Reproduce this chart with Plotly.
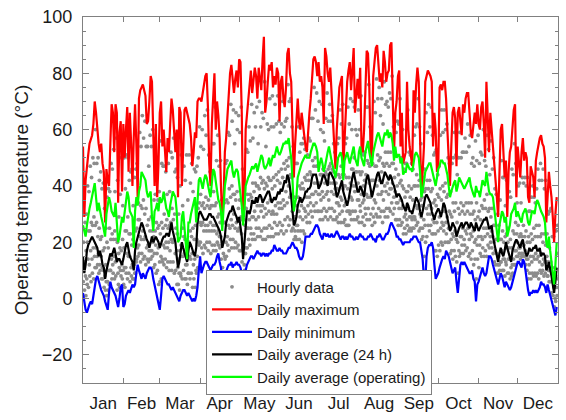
import plotly.graph_objects as go

# Calendar
months = ["Jan", "Feb", "Mar", "Apr", "May", "Jun", "Jul", "Aug", "Sep", "Oct", "Nov", "Dec"]
month_days = [31, 28, 31, 30, 31, 30, 31, 31, 30, 31, 30, 31]

# Daily maximum operating temperature (°C), one value per day
daily_max = [
    54, 29, 42, 48, 51, 55, 57, 58, 62, 70, 66, 60, 55, 52, 55, 48, 45, 27, 46, 42, 40, 55, 69, 66, 52, 69, 66, 34, 59, 63, 38,
    62, 50, 60, 68, 45, 66, 55, 40, 57, 69, 55, 36, 71, 74, 75, 76, 74, 72, 62, 63, 70, 79, 77, 52, 40, 62, 36, 48,
    66, 70, 54, 60, 50, 45, 57, 52, 62, 71, 67, 58, 52, 60, 36, 68, 66, 40, 55, 67, 68, 66, 64, 62, 57, 47, 52, 59, 57, 70, 71,
    71, 70, 73, 77, 79, 80, 68, 48, 40, 62, 69, 80, 60, 70, 65, 57, 40, 28, 35, 52, 57, 66, 75, 80, 83, 79, 73, 78, 81, 75,
    85, 84, 66, 29, 34, 60, 66, 71, 75, 81, 73, 77, 82, 79, 71, 82, 78, 74, 85, 93, 66, 70, 77, 83, 81, 84, 75, 79, 76, 82, 80,
    63, 77, 79, 71, 68, 75, 87, 89, 80, 77, 60, 43, 55, 66, 71, 63, 60, 66, 62, 57, 54, 52, 60, 66, 71, 79, 85, 86, 84, 79,
    84, 77, 79, 75, 62, 89, 86, 80, 77, 82, 73, 68, 55, 46, 60, 68, 75, 77, 79, 46, 58, 66, 77, 81, 84, 74, 80, 89, 66, 74, 78,
    71, 82, 54, 52, 60, 77, 88, 87, 75, 52, 49, 79, 85, 89, 90, 84, 77, 80, 75, 88, 84, 77, 80, 81, 90, 91, 70, 52, 66, 70, 79,
    81, 54, 66, 48, 50, 52, 77, 60, 54, 50, 47, 74, 66, 76, 82, 77, 60, 37, 45, 54, 77, 79, 81, 80, 79, 77, 54, 66, 60, 45,
    47, 75, 76, 74, 77, 77, 71, 60, 52, 40, 54, 66, 68, 64, 47, 66, 68, 63, 58, 69, 66, 71, 73, 73, 66, 59, 57, 62, 66, 62, 69,
    62, 60, 68, 70, 62, 50, 77, 60, 52, 66, 60, 57, 49, 42, 36, 29, 49, 60, 62, 50, 43, 49, 29, 45, 52, 54, 63, 67, 69, 36,
    54, 47, 43, 52, 57, 49, 52, 50, 36, 34, 47, 45, 43, 36, 49, 52, 55, 57, 58, 55, 54, 50, 27, 36, 45, 40, 36, 29, 20, 30, 36,
]

# Daily minimum
daily_min = [
    2, -1, -4, -5, -3, -2, -1, -2, 1, 4, 7, 8, 6, 4, 3, 2, 1, -1, -3, -4, 2, 6, 4, 3, 2, 1, -1, -3, 0, 4, 5,
    -3, -2, 1, 2, 3, 2, 4, 5, 4, 5, 9, 12, 10, 8, 7, 9, 8, 7, 9, 10, 11, 11, 10, 7, 5, 3, 1, -2,
    -4, 1, 7, 8, 7, 6, 5, 5, 4, 3, 4, 3, 2, 1, 0, -1, 1, 2, 3, 3, 2, 1, 2, 1, 0, -1, 0, -1, 1, 4, 10,
    15, 9, 11, 12, 13, 13, 12, 11, 10, 11, 12, 12, 13, 15, 16, 13, 11, 6, 3, 8, 10, 11, 12, 12, 13, 11, 12, 12, 13, 12,
    12, 11, 9, 2, 5, 10, 12, 13, 14, 15, 15, 14, 15, 16, 17, 16, 16, 15, 16, 16, 15, 16, 15, 16, 16, 17, 17, 19, 18, 17, 17,
    18, 17, 17, 16, 16, 16, 17, 18, 18, 19, 20, 19, 18, 18, 17, 15, 14, 14, 15, 18, 22, 22, 22, 22, 23, 23, 24, 25, 26, 26,
    25, 23, 22, 21, 23, 23, 22, 23, 22, 22, 23, 22, 22, 23, 24, 23, 22, 21, 22, 22, 21, 22, 21, 22, 23, 22, 22, 21, 21, 22, 21,
    22, 23, 22, 22, 21, 21, 21, 22, 22, 23, 22, 21, 21, 20, 22, 22, 23, 22, 21, 21, 22, 23, 23, 24, 26, 27, 26, 25, 24, 22, 22,
    21, 21, 20, 19, 20, 20, 20, 20, 20, 21, 21, 22, 22, 22, 21, 20, 20, 17, 14, 7, 6, 15, 18, 19, 19, 20, 18, 12, 7, 8,
    9, 11, 13, 14, 15, 14, 17, 16, 15, 13, 11, 9, 10, 11, 6, 2, 7, 12, 13, 12, 13, 12, 11, 10, 9, 9, 10, 7, 6, -1, 5,
    6, 8, 10, 11, 9, 8, 9, 12, 15, 15, 14, 12, 10, 8, 6, 5, 7, 9, 8, 6, 4, 6, 5, 4, 3, 4, 6, 7, 9, 11,
    13, 13, 12, 11, 14, 13, 10, 6, 3, 1, 2, 2, 3, 2, 3, 2, 3, 4, 6, 5, 5, 4, 2, 5, 3, 1, 0, -3, -5, -6, -3,
]

# Daily average over 24 h
daily_avg24 = [
    15, 9, 12, 17, 19, 20, 21, 22, 21, 20, 19, 18, 15, 17, 15, 12, 11, 7, 10, 12, 13, 16, 15, 17, 18, 16, 13, 14, 14, 13, 12,
    14, 17, 19, 20, 17, 15, 14, 13, 10, 17, 20, 22, 24, 26, 27, 26, 24, 22, 21, 20, 18, 20, 22, 20, 21, 22, 21, 20,
    18, 20, 21, 22, 22, 23, 23, 22, 24, 27, 24, 22, 20, 15, 11, 13, 17, 20, 18, 16, 14, 13, 17, 20, 19, 17, 16, 15, 18, 27, 30,
    31, 30, 29, 28, 28, 28, 29, 30, 30, 29, 29, 28, 27, 26, 25, 24, 22, 18, 20, 22, 27, 29, 30, 31, 31, 33, 31, 30, 29, 27,
    29, 25, 22, 14, 20, 28, 31, 31, 30, 32, 35, 34, 34, 36, 34, 36, 37, 36, 34, 35, 36, 37, 38, 38, 36, 34, 35, 36, 35, 37, 38,
    37, 39, 38, 40, 42, 41, 44, 43, 40, 36, 31, 26, 27, 29, 33, 35, 36, 34, 35, 36, 38, 38, 39, 39, 40, 43, 44, 44, 44, 42,
    39, 40, 41, 43, 44, 43, 41, 40, 44, 45, 44, 43, 42, 39, 36, 37, 39, 41, 42, 38, 36, 35, 33, 35, 38, 41, 43, 45, 43, 41, 38,
    38, 40, 39, 37, 36, 40, 43, 44, 42, 39, 36, 38, 40, 43, 44, 45, 43, 41, 41, 43, 45, 44, 43, 42, 44, 43, 41, 40, 38, 36, 37,
    37, 36, 35, 33, 32, 31, 34, 33, 31, 31, 30, 32, 35, 36, 35, 34, 31, 29, 31, 34, 36, 37, 36, 35, 34, 31, 29, 28, 30, 31,
    32, 31, 29, 31, 34, 33, 31, 29, 27, 24, 25, 27, 26, 25, 22, 24, 25, 26, 27, 25, 26, 27, 27, 26, 25, 27, 26, 25, 24, 27, 25,
    24, 25, 26, 27, 28, 28, 29, 27, 25, 25, 26, 22, 20, 17, 15, 13, 16, 18, 16, 15, 17, 20, 18, 16, 15, 13, 17, 19, 20, 21,
    20, 19, 18, 20, 21, 18, 16, 15, 16, 18, 17, 17, 18, 18, 19, 17, 17, 18, 15, 16, 16, 15, 10, 11, 13, 11, 8, 5, 2, 6, 11,
]

# Daily average over operating hours
daily_avg_op = [
    26, 24, 22, 26, 30, 32, 34, 36, 38, 41, 36, 31, 34, 31, 29, 27, 24, 22, 30, 33, 36, 34, 31, 30, 29, 34, 26, 20, 22, 26, 29,
    27, 31, 35, 38, 36, 31, 30, 29, 18, 31, 36, 33, 38, 40, 45, 44, 43, 42, 38, 36, 37, 38, 29, 24, 31, 32, 34, 31,
    36, 34, 35, 38, 35, 32, 31, 29, 33, 36, 38, 37, 36, 31, 20, 21, 22, 29, 31, 25, 20, 14, 27, 27, 30, 32, 34, 36, 27, 36, 42,
    43, 41, 39, 42, 44, 43, 40, 38, 36, 42, 46, 45, 41, 37, 35, 34, 31, 24, 33, 40, 43, 46, 47, 48, 49, 45, 43, 45, 46, 45,
    41, 37, 33, 26, 31, 40, 42, 43, 44, 46, 47, 46, 47, 48, 45, 47, 49, 51, 50, 47, 46, 47, 48, 50, 47, 49, 51, 50, 52, 54, 52,
    51, 52, 54, 55, 55, 56, 55, 57, 53, 50, 42, 31, 34, 36, 43, 45, 46, 48, 49, 50, 51, 50, 50, 50, 52, 54, 55, 55, 54, 52,
    45, 48, 50, 48, 45, 47, 50, 52, 54, 51, 49, 47, 45, 43, 46, 50, 51, 52, 50, 42, 49, 51, 52, 50, 48, 50, 52, 54, 50, 48, 47,
    52, 54, 50, 48, 47, 52, 54, 56, 52, 49, 47, 52, 54, 57, 58, 59, 57, 55, 54, 57, 59, 58, 60, 57, 59, 58, 55, 49, 54, 50, 51,
    51, 48, 50, 44, 45, 45, 48, 47, 46, 46, 45, 48, 51, 52, 51, 50, 45, 36, 38, 41, 45, 46, 47, 48, 48, 46, 45, 42, 40, 43,
    46, 47, 49, 49, 48, 48, 46, 44, 40, 36, 38, 40, 41, 42, 38, 40, 43, 42, 41, 40, 39, 40, 41, 42, 43, 40, 38, 37, 36, 40, 38,
    38, 36, 39, 42, 41, 40, 45, 41, 38, 37, 37, 36, 32, 29, 26, 20, 26, 29, 31, 30, 27, 29, 22, 24, 26, 30, 31, 32, 34, 29,
    31, 29, 28, 27, 30, 31, 32, 30, 27, 26, 29, 31, 31, 30, 33, 35, 34, 32, 31, 30, 29, 27, 20, 18, 22, 17, 13, 10, 5, 12, 20,
]

# Hourly readings: hour of day of each reading, then one row of readings per day
hourly_hours = [5, 21, 10, 14]
hourly_temps = [
    # Jan
    [6, 11, 20, 37], [3, 8, 13, 27], [1, 7, 17, 30], [5, 14, 20, 40], [4, 12, 24, 38], [8, 17, 24, 47], [6, 14, 27, 43],
    [9, 18, 26, 50], [7, 15, 29, 48], [11, 18, 26, 60], [11, 15, 27, 48], [12, 16, 22, 50], [9, 12, 25, 42], [10, 15, 21, 45],
    [7, 11, 22, 39], [7, 10, 17, 41], [4, 8, 18, 32], [3, 6, 12, 25], [1, 6, 20, 36], [3, 10, 18, 39], [5, 10, 25, 38],
    [10, 14, 21, 48], [7, 12, 23, 46], [9, 15, 21, 53], [7, 13, 24, 38], [8, 14, 21, 57], [3, 9, 20, 42], [5, 11, 16, 29],
    [4, 10, 18, 37], [8, 12, 17, 50], [7, 10, 21, 33],
    # Feb
    [5, 11, 18, 50], [4, 11, 24, 39], [9, 16, 24, 51], [7, 15, 29, 50], [9, 15, 23, 42], [6, 11, 23, 45], [8, 12, 19, 46],
    [7, 11, 21, 33], [7, 9, 12, 43], [9, 13, 24, 46], [14, 18, 25, 48], [15, 19, 28, 34], [16, 22, 28, 59], [13, 21, 33, 54],
    [16, 24, 32, 65], [14, 21, 35, 57], [15, 22, 30, 63], [12, 18, 32, 54], [14, 19, 26, 54], [13, 17, 28, 47], [14, 17, 24, 58],
    [14, 17, 29, 54], [15, 20, 24, 60], [11, 16, 22, 35], [12, 19, 24, 37], [9, 16, 27, 44], [10, 18, 25, 35], [5, 13, 26, 38],
    # Mar
    [6, 15, 23, 56], [7, 14, 27, 48], [13, 19, 25, 47], [12, 18, 30, 47], [14, 20, 26, 45], [11, 18, 28, 37], [13, 20, 25, 48],
    [10, 17, 26, 38], [13, 21, 27, 52], [10, 20, 32, 50], [13, 21, 28, 57], [9, 16, 30, 45], [10, 17, 25, 46], [5, 11, 23, 43],
    [5, 9, 14, 30], [3, 9, 17, 40], [8, 15, 19, 51], [7, 15, 25, 33], [10, 16, 22, 47], [7, 12, 21, 42], [7, 12, 16, 51],
    [5, 9, 14, 35], [9, 15, 20, 51], [7, 14, 24, 41], [9, 16, 22, 48], [4, 12, 25, 38], [7, 14, 21, 46], [4, 10, 26, 45],
    [9, 15, 21, 47], [11, 20, 32, 50], [19, 27, 34, 61],
    # Apr
    [20, 26, 37, 54], [18, 27, 33, 60], [16, 24, 34, 53], [19, 26, 32, 65], [18, 24, 36, 58], [20, 26, 33, 67], [17, 24, 35, 51],
    [20, 27, 32, 45], [16, 24, 33, 38], [19, 26, 33, 55], [17, 24, 38, 55], [19, 26, 33, 68], [17, 23, 34, 49], [20, 24, 29, 58],
    [19, 22, 30, 47], [18, 22, 27, 49], [14, 19, 27, 35], [11, 16, 20, 27], [8, 15, 27, 34], [14, 20, 27, 48], [15, 22, 35, 49],
    [19, 26, 34, 59], [17, 25, 39, 58], [21, 28, 36, 69], [18, 26, 40, 63], [21, 30, 37, 67], [18, 25, 37, 55], [20, 27, 35, 66],
    [18, 24, 38, 60], [19, 25, 32, 65],
    # May
    [17, 24, 35, 59], [17, 23, 29, 68], [13, 18, 28, 46], [7, 12, 18, 28], [10, 16, 26, 32], [18, 25, 32, 53], [18, 25, 37, 52],
    [21, 28, 35, 61], [19, 25, 37, 56], [23, 29, 36, 69], [21, 29, 41, 57], [23, 31, 38, 66], [21, 28, 41, 61], [25, 33, 40, 68],
    [22, 29, 40, 55], [25, 33, 39, 70], [22, 31, 43, 61], [24, 33, 41, 66], [21, 29, 42, 64], [25, 32, 39, 77], [21, 30, 41, 54],
    [25, 34, 40, 62], [22, 31, 43, 60], [26, 35, 42, 71], [22, 30, 42, 61], [25, 31, 39, 72], [22, 30, 43, 61], [27, 33, 40, 69],
    [23, 30, 44, 62], [26, 34, 42, 72], [23, 32, 45, 63],
    # Jun
    [27, 34, 41, 59], [24, 32, 46, 62], [26, 35, 43, 70], [23, 33, 48, 61], [28, 38, 46, 63], [24, 34, 49, 64], [29, 40, 47, 76],
    [26, 36, 50, 70], [28, 37, 44, 71], [24, 31, 43, 61], [25, 29, 34, 54], [21, 24, 29, 36], [22, 26, 29, 48], [21, 26, 33, 48],
    [24, 31, 36, 61], [21, 29, 40, 52], [24, 33, 39, 55], [20, 28, 41, 55], [24, 32, 39, 57], [23, 31, 43, 53], [29, 36, 42, 53],
    [27, 33, 44, 51], [30, 36, 42, 57], [27, 34, 45, 56], [31, 37, 44, 64], [29, 37, 49, 64], [33, 41, 47, 75], [31, 38, 50, 67],
    [34, 41, 47, 73], [31, 37, 47, 63],
    # Jul
    [31, 37, 41, 70], [28, 35, 44, 60], [31, 38, 44, 69], [28, 36, 46, 59], [32, 41, 44, 56], [29, 37, 45, 64], [31, 38, 44, 73],
    [28, 35, 46, 63], [32, 41, 47, 69], [29, 38, 48, 63], [32, 41, 46, 65], [28, 37, 45, 55], [31, 39, 43, 52], [28, 34, 41, 44],
    [29, 34, 39, 55], [27, 33, 44, 57], [30, 36, 43, 67], [27, 35, 47, 62], [31, 39, 44, 69], [27, 33, 40, 44], [28, 34, 40, 55],
    [26, 31, 43, 57], [26, 31, 39, 68], [26, 31, 43, 62], [30, 36, 41, 71], [28, 35, 46, 60], [31, 40, 46, 70], [28, 38, 50, 68],
    [31, 40, 45, 60], [28, 35, 45, 58], [29, 35, 41, 67],
    # Aug
    [27, 33, 45, 60], [31, 37, 44, 72], [27, 34, 45, 52], [29, 35, 40, 51], [26, 32, 42, 52], [30, 37, 44, 68], [28, 36, 49, 68],
    [32, 41, 48, 76], [28, 36, 47, 61], [30, 37, 42, 51], [26, 32, 42, 48], [29, 35, 42, 70], [27, 34, 47, 66], [30, 40, 47, 78],
    [29, 37, 51, 71], [32, 42, 49, 75], [29, 37, 50, 65], [31, 38, 45, 71], [27, 35, 48, 62], [31, 40, 47, 77], [29, 38, 52, 69],
    [32, 41, 48, 70], [29, 37, 52, 68], [32, 39, 47, 73], [31, 39, 52, 71], [34, 41, 48, 79], [30, 36, 48, 61], [32, 38, 43, 51],
    [28, 34, 46, 59], [28, 34, 40, 63], [26, 32, 44, 62],
    # Sep
    [28, 35, 41, 71], [26, 32, 42, 50], [27, 33, 40, 60], [23, 29, 39, 46], [25, 30, 36, 48], [23, 28, 38, 48], [26, 32, 38, 67],
    [24, 29, 40, 52], [25, 29, 36, 51], [24, 28, 39, 48], [25, 29, 35, 46], [25, 29, 40, 58], [28, 33, 40, 61], [26, 32, 44, 62],
    [27, 33, 40, 71], [24, 30, 42, 61], [25, 29, 35, 55], [21, 25, 33, 36], [22, 28, 33, 43], [15, 26, 38, 46], [20, 32, 39, 66],
    [22, 30, 42, 59], [26, 33, 39, 69], [24, 30, 42, 61], [26, 32, 38, 68], [23, 28, 39, 58], [23, 27, 34, 51], [17, 23, 35, 52],
    [17, 27, 33, 53], [15, 24, 37, 44],
    # Oct
    [19, 29, 36, 47], [17, 25, 39, 58], [20, 27, 35, 67], [19, 26, 40, 59], [24, 31, 38, 67], [20, 27, 41, 60], [23, 29, 36, 62],
    [20, 25, 37, 50], [20, 25, 31, 48], [16, 21, 30, 38], [17, 23, 29, 48], [14, 22, 34, 50], [17, 24, 31, 59], [15, 21, 34, 51],
    [13, 20, 27, 44], [9, 17, 32, 50], [15, 22, 30, 59], [16, 22, 34, 50], [19, 25, 31, 52], [16, 21, 33, 52], [19, 24, 30, 57],
    [17, 23, 34, 52], [18, 25, 31, 62], [15, 21, 34, 54], [16, 23, 30, 58], [14, 22, 34, 48], [17, 24, 30, 50], [12, 20, 31, 47],
    [14, 21, 28, 56], [7, 19, 34, 49], [14, 22, 29, 58],
    # Nov
    [11, 19, 31, 48], [16, 22, 28, 52], [15, 21, 33, 51], [18, 25, 32, 60], [15, 22, 35, 49], [17, 25, 32, 47], [15, 23, 37, 58],
    [19, 25, 31, 53], [18, 22, 32, 44], [20, 24, 29, 56], [18, 22, 32, 46], [16, 20, 26, 50], [13, 17, 26, 39], [12, 16, 21, 37],
    [9, 12, 21, 30], [9, 12, 15, 26], [10, 13, 21, 35], [13, 17, 21, 49], [10, 14, 24, 43], [10, 14, 20, 43], [8, 13, 22, 33],
    [12, 18, 23, 42], [9, 14, 20, 25], [9, 14, 18, 38], [7, 11, 21, 36], [8, 12, 18, 46], [9, 14, 24, 44], [12, 17, 23, 55],
    [12, 17, 27, 48], [15, 20, 23, 34],
    # Dec
    [15, 18, 26, 40], [16, 18, 22, 41], [14, 16, 23, 34], [15, 19, 22, 43], [16, 19, 26, 41], [15, 17, 22, 43], [12, 14, 24, 40],
    [10, 14, 20, 43], [7, 12, 22, 31], [9, 15, 20, 31], [7, 13, 23, 36], [9, 15, 21, 40], [8, 14, 25, 36], [9, 16, 22, 34],
    [8, 14, 26, 39], [9, 15, 22, 46], [7, 13, 26, 42], [10, 16, 22, 48], [9, 12, 23, 42], [10, 14, 20, 46], [8, 13, 23, 39],
    [9, 13, 19, 42], [4, 8, 15, 23], [8, 10, 13, 30], [6, 10, 18, 31], [6, 10, 13, 32], [2, 6, 11, 22], [1, 4, 7, 22],
    [-3, 0, 4, 11], [-1, 4, 8, 24], [1, 7, 16, 26],
]

n_days = sum(month_days)
assert len(daily_max) == len(daily_min) == len(daily_avg24) == len(daily_avg_op) == len(hourly_temps) == n_days

days = list(range(n_days))

# Month boundaries (tick marks) and month centres (labels)
month_starts = [sum(month_days[:i]) for i in range(len(month_days))]
month_bounds = month_starts[1:]
month_mids = [s + d / 2 for s, d in zip(month_starts, month_days)]

hx, hy = [], []
for d, row in enumerate(hourly_temps):
    for h, t in zip(hourly_hours, row):
        hx.append(d + h / 24)
        hy.append(t)

fig = go.Figure()
fig.add_trace(go.Scatter(x=hx, y=hy, mode="markers", name="Hourly data",
                         marker=dict(color="#8c8c8c", size=3.8, line=dict(width=0))))

series = [
    ("Daily maximum", daily_max, "#ff0000"),
    ("Daily minimum", daily_min, "#0000ff"),
    ("Daily average (24 h)", daily_avg24, "#000000"),
    ("Daily average (operating)", daily_avg_op, "#00ff00"),
]
for name, vals, col in series:
    fig.add_trace(go.Scatter(x=days, y=vals, mode="lines", name=name,
                             line=dict(color=col, width=2.2)))

axis_grey = "#808080"
fig.update_layout(
    width=566, height=420,
    margin=dict(l=83, r=7, t=14, b=27),
    paper_bgcolor="white", plot_bgcolor="white",
    font=dict(family="Liberation Sans, Arial, sans-serif", color="#1a1a1a"),
    showlegend=True,
    legend=dict(
        x=0.259, y=0.31, xanchor="left", yanchor="top",
        bgcolor="white", bordercolor=axis_grey, borderwidth=1,
        font=dict(size=15, color="#1a1a1a"),
        tracegroupgap=0, itemwidth=40,
    ),
    xaxis=dict(
        range=[0, n_days], showgrid=False, zeroline=False,
        showline=True, linecolor=axis_grey, linewidth=1, mirror="ticks",
        tickmode="array", tickvals=month_mids, ticktext=months, ticks="",
        tickfont=dict(size=17), ticklabelstandoff=5,
        minor=dict(tickmode="array", tickvals=month_bounds, ticks="inside",
                   ticklen=5, tickcolor=axis_grey, showgrid=False),
    ),
    yaxis=dict(
        range=[-30, 100], showgrid=False, zeroline=False,
        showline=True, linecolor=axis_grey, linewidth=1, mirror="ticks",
        tickmode="array", tickvals=[-20, 0, 20, 40, 60, 80, 100],
        ticks="inside", ticklen=6, tickcolor=axis_grey,
        tickfont=dict(size=18), ticklabelstandoff=6,
        minor=dict(dtick=5, ticks="inside", ticklen=3, tickcolor=axis_grey, showgrid=False),
        title=dict(text="Operating temperature (°C)", font=dict(size=19), standoff=8),
    ),
)

fig.write_html("out.html")
